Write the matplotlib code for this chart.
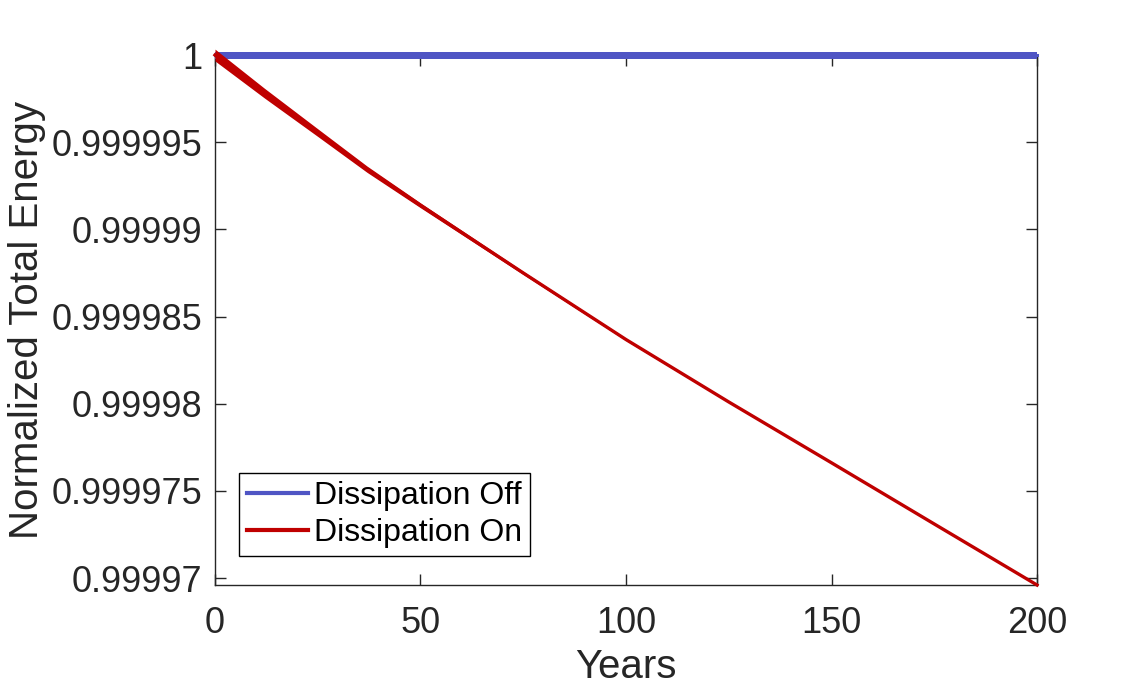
import numpy as np
import matplotlib
matplotlib.use("Agg")
import matplotlib.pyplot as plt

plt.rcParams['font.family'] = ['Liberation Sans', 'DejaVu Sans']

# values
years_off = [0, 200]
energy_off = [1.0, 1.0]
spread_off = [2.0e-7, 2.0e-7]

years_on = [0, 12, 25, 37, 50, 75, 100, 125, 150, 175, 200]
energy_on = [1.0, 0.99999782, 0.99999555, 0.99999345, 0.99999138, 0.9999875,
             0.99998368, 0.9999801, 0.99997661, 0.9999731, 0.9999696]
spread_on = [3.4e-7, 2.8e-7, 2.2e-7, 1.8e-7, 1.4e-7, 0.9e-7, 0.6e-7,
             0.4e-7, 0.25e-7, 0.1e-7, 0.0]

yticks = [0.99997, 0.999975, 0.99998, 0.999985, 0.99999, 0.999995, 1.0]
ytick_labels = ['0.99997', '0.999975', '0.99998', '0.999985', '0.99999', '0.999995', '1']
xticks = [0, 50, 100, 150, 200]

blue = '#4f55c4'
red = '#bf0000'
grey = '#262626'

fig = plt.figure(figsize=(11.46, 6.88), dpi=100)
ax = fig.add_axes([0.1876, 0.1497, 0.7173, 0.7703])

yo = np.array(energy_off)
so = np.array(spread_off)
ax.fill_between(years_off, yo - so, yo + so, color=blue, lw=0, clip_on=False, zorder=3)
ax.plot(years_off, energy_off, color=blue, lw=2.2, clip_on=False, zorder=3, label='Dissipation Off')

yr = np.array(energy_on)
sr = np.array(spread_on)
ax.fill_between(years_on, yr - sr, yr + sr, color=red, lw=0, clip_on=False, zorder=4)
ax.plot(years_on, energy_on, color=red, lw=2.4, clip_on=False, zorder=4, label='Dissipation On')

ax.set_xlim(0, 200)
ax.set_ylim(0.9999696, 1.0)
ax.set_xticks(xticks)
ax.set_yticks(yticks)
ax.set_yticklabels(ytick_labels)

ax.tick_params(direction='in', length=8, width=1, colors=grey, labelsize=26,
               top=True, right=True)
ax.tick_params(axis='y', pad=9)
ax.tick_params(axis='x', pad=15)
for s in ax.spines.values():
    s.set_color(grey)
    s.set_linewidth(1)

ax.set_xlabel('Years', fontsize=29, color=grey, labelpad=5)
ax.set_ylabel('Normalized Total Energy', fontsize=29, color=grey, labelpad=4)

leg = ax.legend(loc='lower left', bbox_to_anchor=(0.029, 0.055), borderaxespad=0,
                fontsize=23, frameon=True, fancybox=False, edgecolor='black',
                framealpha=1, handlelength=1.9, handletextpad=0.2,
                borderpad=0.25, labelspacing=0.2)
leg.get_frame().set_linewidth(1)
for h in leg.get_lines():
    h.set_linewidth(3)

fig.savefig('out.png', dpi=100)
